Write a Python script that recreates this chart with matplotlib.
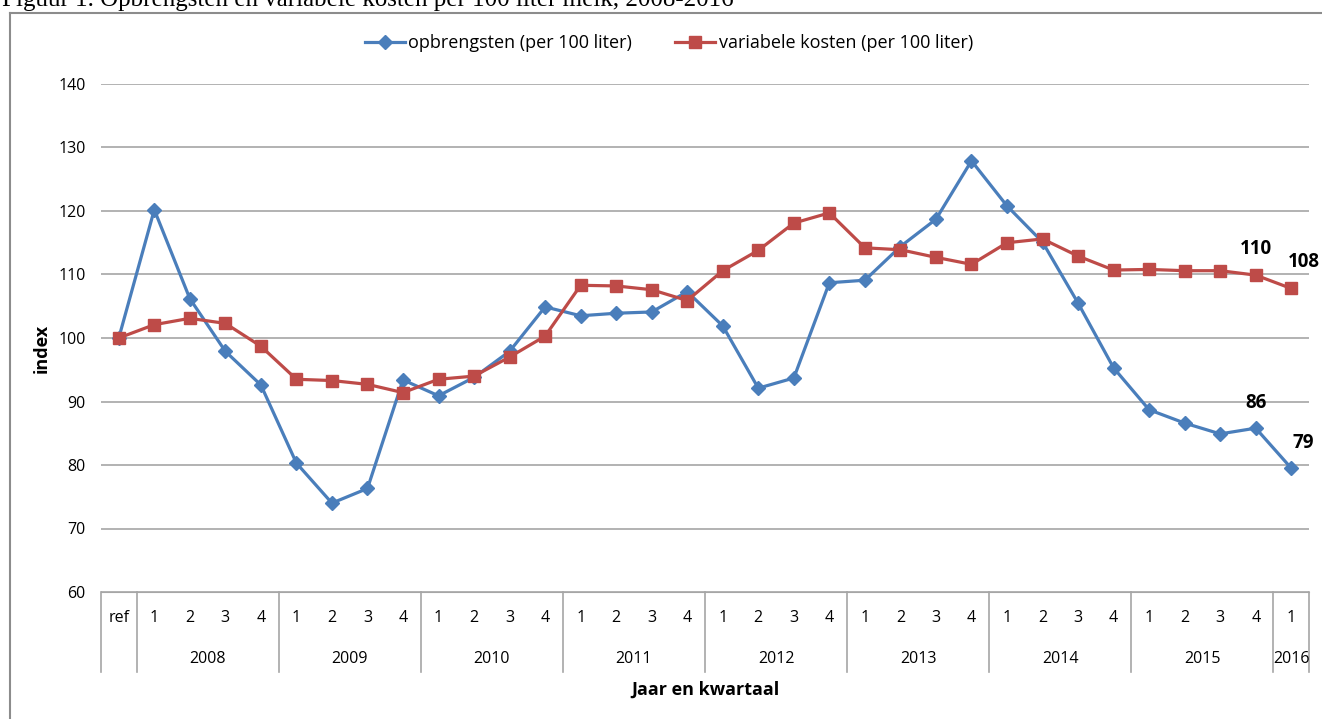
import matplotlib.pyplot as plt
from matplotlib.lines import Line2D
import numpy as np

# categories: reference point, then quarters 2008-2015 and 2016 Q1
years = ['2008', '2009', '2010', '2011', '2012', '2013', '2014', '2015', '2016']
quarters_per_year = [4, 4, 4, 4, 4, 4, 4, 4, 1]
quarter_labels = ['ref'] + [str(q) for n in quarters_per_year for q in range(1, n + 1)]

opbrengsten = [100,
               120.2, 106.2, 97.9, 92.6,
               80.3, 74.0, 76.3, 93.4,
               90.9, 93.8, 97.9, 104.9,
               103.5, 103.9, 104.1, 107.3,
               101.9, 92.1, 93.7, 108.7,
               109.1, 114.4, 118.7, 127.9,
               120.8, 115.1, 105.5, 95.3,
               88.7, 86.6, 84.9, 85.8,
               79.5]
kosten = [100,
          102.1, 103.1, 102.3, 98.7,
          93.5, 93.3, 92.7, 91.4,
          93.5, 94.0, 97.0, 100.3,
          108.3, 108.2, 107.6, 105.9,
          110.6, 113.8, 118.1, 119.7,
          114.2, 113.9, 112.7, 111.6,
          115.0, 115.6, 112.9, 110.7,
          110.8, 110.6, 110.6, 109.9,
          107.8]
labelled = {32: (0, '110', '86'), 33: (9, '108', '79')}

blue = '#4a7ebb'
red = '#be4b48'
sans = ['Liberation Sans Narrow', 'Open Sans', 'DejaVu Sans']
plt.rcParams['font.family'] = sans

fig = plt.figure(figsize=(13.22, 7.19), dpi=100)
ax = fig.add_axes([101 / 1322, 1 - 592 / 719, 1208 / 1322, 508 / 719])

x = np.arange(len(quarter_labels))
ax.plot(x, opbrengsten, color=blue, lw=2.3, marker='D', ms=7, mec=blue,
        label='opbrengsten (per 100 liter)', zorder=3)
ax.plot(x, kosten, color=red, lw=2.3, marker='s', ms=9, mec=red,
        label='variabele kosten (per 100 liter)', zorder=3)

for i, (dx, lk, lo) in labelled.items():
    ax.annotate(lk, (x[i], kosten[i]), xytext=(dx, 19), textcoords='offset points',
                ha='center', va='center', fontsize=13.5, fontweight='bold')
    ax.annotate(lo, (x[i], opbrengsten[i]), xytext=(dx, 18), textcoords='offset points',
                ha='center', va='center', fontsize=13.5, fontweight='bold')

ax.set_xlim(-0.5, len(quarter_labels) - 0.5)
ax.set_ylim(60, 140)
ax.set_yticks(range(60, 141, 10))
ax.yaxis.grid(True, color='#a6a6a6', lw=1.2)
ax.set_axisbelow(True)
for s in ['top', 'right', 'left']:
    ax.spines[s].set_visible(False)
ax.spines['bottom'].set_color('#a6a6a6')
ax.tick_params(axis='y', length=0, pad=11, labelsize=11.5)
ax.set_xticks(x)
ax.set_xticklabels(quarter_labels)
ax.tick_params(axis='x', length=0, pad=13, labelsize=11.5)

# multi-level category axis
trans = ax.get_xaxis_transform()
bounds = [-0.5, 0.5]
start = 1
for n in quarters_per_year:
    bounds.append(start + n - 0.5)
    start += n
for b in bounds:
    ax.add_line(Line2D([b, b], [0, -0.157], transform=trans, color='#a6a6a6',
                       lw=1.2, clip_on=False))
start = 1
for yr, n in zip(years, quarters_per_year):
    ax.text(start + (n - 1) / 2, -0.132, yr, transform=trans, ha='center',
            va='center', fontsize=11.5)
    start += n

ax.set_xlabel('Jaar en kwartaal', fontsize=13, fontweight='bold')
ax.xaxis.set_label_coords(0.5, -0.193)
ax.xaxis.label.set_va('center')
ax.set_ylabel('index', fontsize=13, fontweight='bold')
ax.yaxis.set_label_coords(-0.049, 0.48)
ax.yaxis.label.set_va('center')

fig.legend(loc='center', bbox_to_anchor=(669 / 1322, 1 - 43 / 719), ncol=2,
           frameon=False, fontsize=13, handlelength=2.2, handletextpad=0.2,
           columnspacing=2.4)

# outer frame and caption (cut at the top edge, as in the source)
fig.add_artist(Line2D([9.5 / 1322, 9.5 / 1322], [0, 1 - 12.5 / 719], color='#8c8c8c', lw=1.5))
fig.add_artist(Line2D([9.5 / 1322, 1], [1 - 12.5 / 719, 1 - 12.5 / 719], color='#8c8c8c', lw=1.5))
fig.text(2 / 1322, 1 - 6 / 719, 'Figuur 1. Opbrengsten en variabele kosten per 100 liter melk, 2008-2016',
         family=['Liberation Serif', 'DejaVu Serif'], fontsize=18, va='baseline', ha='left')

fig.savefig('out.png', dpi=100)
